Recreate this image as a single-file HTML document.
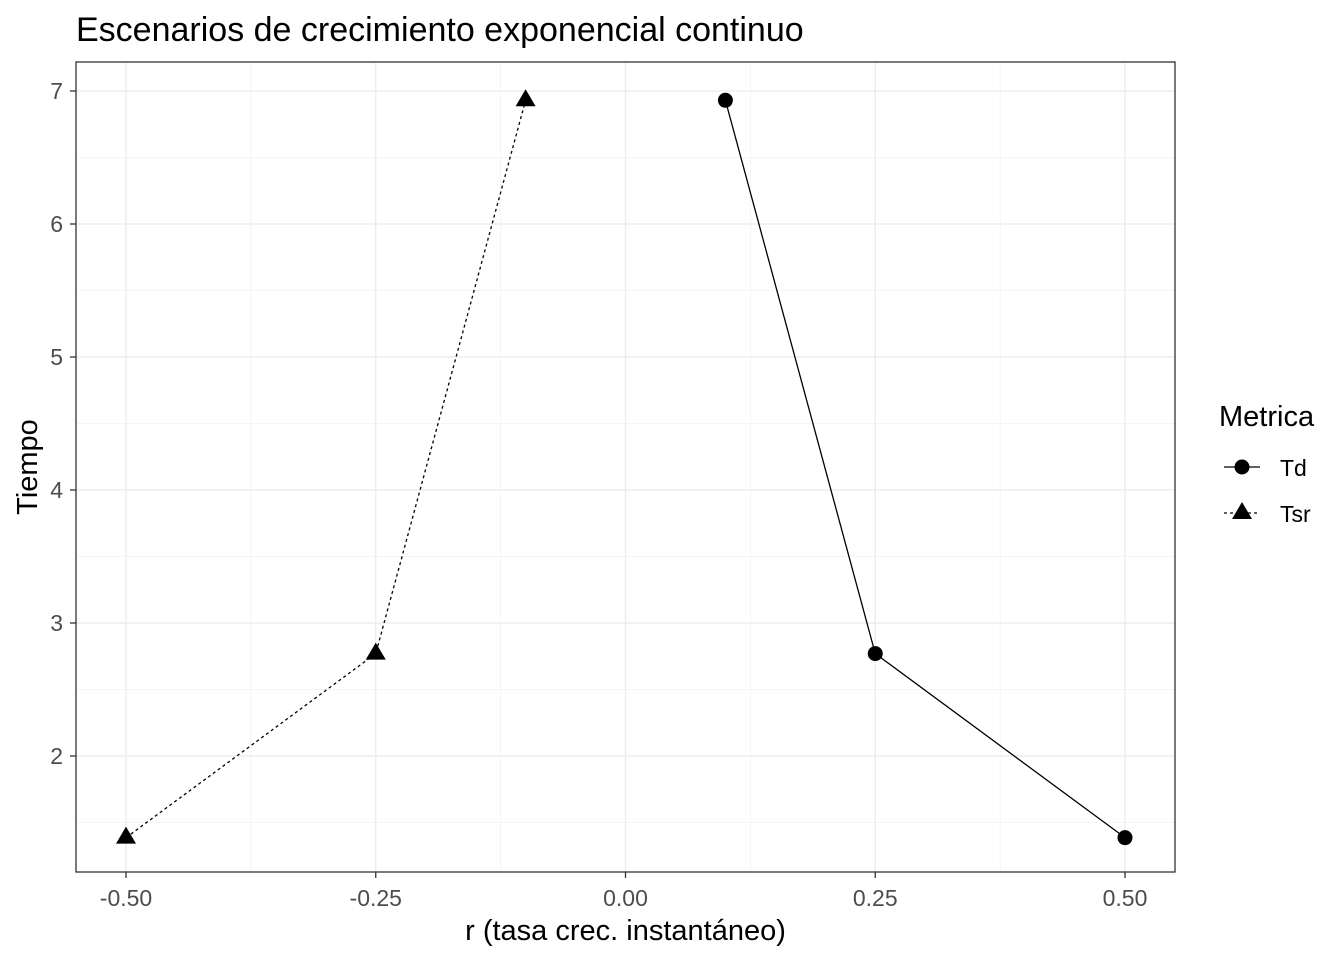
<!DOCTYPE html>
<html><head><meta charset="utf-8"><style>
body{margin:0;background:#fff;font-family:"Liberation Sans",Arial,sans-serif}
svg{display:block}
</style></head><body>
<svg id="chart" width="1344" height="960" xmlns="http://www.w3.org/2000/svg" font-family="Liberation Sans, Arial, sans-serif">
<text x="76" y="41" font-size="34" fill="#000">Escenarios de crecimiento exponencial continuo</text>
<g id="grid"></g>
<g id="marks"></g>
<rect x="76" y="62" width="1099" height="810" fill="none" stroke="#333" stroke-width="1.3"/>
<g id="axes"></g>
<text x="625.5" y="940" font-size="29" text-anchor="middle">r (tasa crec. instantáneo)</text>
<text transform="translate(37,467) rotate(-90)" font-size="29" text-anchor="middle">Tiempo</text>
<g>
<text x="1219" y="426" font-size="29">Metrica</text>
<g>
<line x1="1224" y1="467" x2="1260" y2="467" stroke="#000" stroke-width="1.3"/>
<circle cx="1242" cy="467" r="7.5" fill="#000"/>
<text x="1280" y="476" font-size="23">Td</text></g>
<g>
<line x1="1224" y1="513" x2="1260" y2="513" stroke="#000" stroke-width="1.3" stroke-dasharray="3,3"/>
<polygon points="1242,502 1252,519 1232,519" fill="#000"/>
<text x="1280" y="522" font-size="23">Tsr</text></g>
</g>
</svg>
<script>
const xTicks=[-0.5,-0.25,0,0.25,0.5];
const xTickLabels=["-0.50","-0.25","0.00","0.25","0.50"];
const yTicks=[2,3,4,5,6,7];
const tdR=[0.1,0.25,0.5];
const tdT=[6.93,2.77,1.386];
const tsrR=[-0.5,-0.25,-0.1];
const tsrT=[1.386,2.77,6.93];
const X=v=>625.5+v*999;
const Y=v=>91+(7-v)*133;
const NS="http://www.w3.org/2000/svg";
function mk(p,t,a){const e=document.createElementNS(NS,t);for(const k in a)e.setAttribute(k,a[k]);p.appendChild(e);return e;}
const grid=document.getElementById('grid'),axes=document.getElementById('axes'),marks=document.getElementById('marks');
for(let i=0;i<xTicks.length;i++){
 const x=X(xTicks[i]);
 const g=mk(grid,'line',{x1:x,x2:x,y1:62,y2:872,stroke:'#ebebeb','stroke-width':1.3});
 
 
 if(i<xTicks.length-1){const m=X((xTicks[i]+xTicks[i+1])/2);
  const mg=mk(grid,'line',{x1:m,x2:m,y1:62,y2:872,stroke:'#f2f2f2','stroke-width':0.8});
  
  }
 mk(axes,'line',{x1:x,x2:x,y1:872,y2:878,stroke:'#333','stroke-width':1.3});
 const t=mk(axes,'text',{x:x,y:906,'font-size':23,'text-anchor':'middle',fill:'#4d4d4d'});t.textContent=xTickLabels[i];
 
 
}
for(let i=0;i<yTicks.length;i++){
 const y=Y(yTicks[i]);
 const g=mk(grid,'line',{x1:76,x2:1175,y1:y,y2:y,stroke:'#ebebeb','stroke-width':1.3});
 
 
 const m=Y(yTicks[i]-0.5);
 const mg=mk(grid,'line',{x1:76,x2:1175,y1:m,y2:m,stroke:'#f2f2f2','stroke-width':0.8});
 
 
 mk(axes,'line',{x1:70,x2:76,y1:y,y2:y,stroke:'#333','stroke-width':1.3});
 const t=mk(axes,'text',{x:63,y:y+8,'font-size':23,'text-anchor':'end',fill:'#4d4d4d'});t.textContent=yTicks[i];
 
 
}
const tdLine=mk(marks,'polyline',{points:tdR.map((r,i)=>X(r)+','+Y(tdT[i])).join(' '),fill:'none',stroke:'#000','stroke-width':1.3});


const tsrLine=mk(marks,'polyline',{points:tsrR.map((r,i)=>X(r)+','+Y(tsrT[i])).join(' '),fill:'none',stroke:'#000','stroke-width':1.3,'stroke-dasharray':'3,3'});


tdR.forEach((r,i)=>{const c=mk(marks,'circle',{cx:X(r),cy:Y(tdT[i]),r:7.5,fill:'#000'});
 
 });
tsrR.forEach((r,i)=>{const x=X(r),y=Y(tsrT[i]);
 const p=mk(marks,'polygon',{points:`${x},${y-11} ${x+10},${y+6} ${x-10},${y+6}`,fill:'#000'});
 
 });
</script>
</body></html>
